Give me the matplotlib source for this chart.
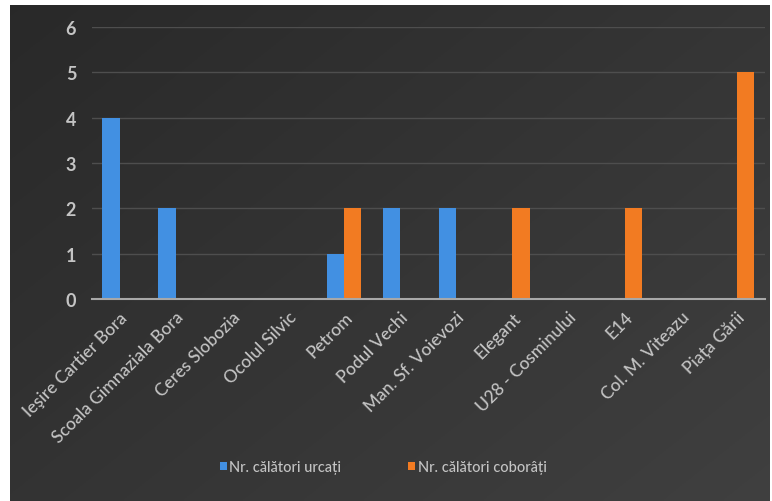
import numpy as np
import matplotlib
matplotlib.use("Agg")
import matplotlib.pyplot as plt

plt.rcParams['font.family'] = ['Lato', 'Open Sans', 'DejaVu Sans']

statii = ["Ieşire Cartier Bora", "Scoala Gimnaziala Bora", "Ceres Slobozia",
          "Ocolul Silvic", "Petrom", "Podul Vechi", "Man. Sf. Voievozi",
          "Elegant", "U28 - Cosminului", "E14", "Col. M. Viteazu", "Piața Gării"]
urcati = [4, 2, 0, 0, 1, 2, 2, 0, 0, 0, 0, 0]
coborati = [0, 0, 0, 0, 2, 0, 0, 2, 0, 2, 0, 5]

W, H = 772, 502
fig = plt.figure(figsize=(W / 100, H / 100), dpi=100)
fig.patch.set_facecolor("white")

# dark gradient background of the chart area
bg = fig.add_axes([10 / W, 0, (W - 12) / W, 1 - 6 / H])
yy, xx = np.mgrid[0:1:200j, 0:1:300j]
grad = 0.16 + 0.09 * (0.55 * xx + 0.45 * yy)
bg.imshow(np.dstack([grad, grad, grad]), aspect="auto", extent=[0, 1, 0, 1], origin="upper")
bg.set_axis_off()
bg.set_zorder(0)

ax = fig.add_axes([91.5 / W, 1 - 300 / H, (765 - 91.5) / W, (300 - 28) / H])
ax.set_zorder(1)
ax.patch.set_alpha(0)

x = np.arange(len(statii))
w = 0.31
ax.bar(x - w / 2, urcati, w, color="#4290e2", label="Nr. călători urcați", zorder=3)
ax.bar(x + w / 2, coborati, w, color="#f27b22", label="Nr. călători coborâți", zorder=3)

ax.set_xlim(-0.5, len(statii) - 0.5)
ax.set_ylim(0, 6)
ax.set_yticks(range(0, 7))
ax.yaxis.grid(True, color="#4e4e4e", linewidth=1, zorder=0)
for s in ["top", "right", "left"]:
    ax.spines[s].set_visible(False)
ax.spines["bottom"].set_color("#a8a8a8")
ax.spines["bottom"].set_linewidth(1.5)
ax.spines["bottom"].set_zorder(4)
ax.tick_params(axis="both", length=0, colors="#c4c4c4")
ax.tick_params(axis="y", pad=11, labelsize=13)
for t in ax.get_yticklabels():
    t.set_fontweight("bold")
ax.set_xticks(x)
ax.set_xticklabels(statii, rotation=45, ha="right", rotation_mode="anchor",
                   fontsize=12.5, fontweight="medium")
ax.tick_params(axis="x", pad=7)

leg = fig.legend(loc="center", bbox_to_anchor=(383 / W, 1 - 468 / H), ncol=2,
                 frameon=False, fontsize=10.5, labelcolor="#c4c4c4",
                 handlelength=0.5, handleheight=0.5, handletextpad=0.15,
                 columnspacing=4.6)
for t in leg.get_texts():
    t.set_fontweight("medium")

fig.savefig("out.png", dpi=100, facecolor=fig.get_facecolor())
